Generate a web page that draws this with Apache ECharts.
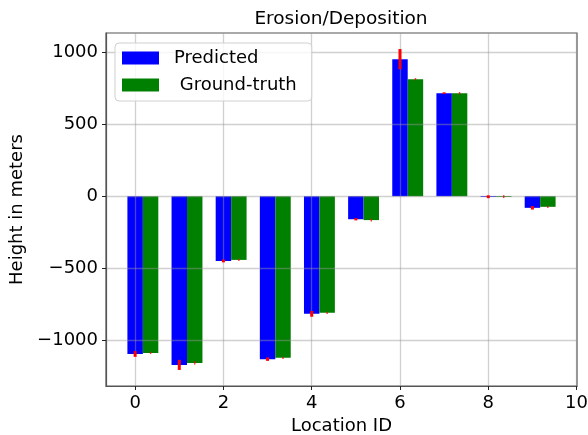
<!DOCTYPE html>
<html>
<head>
<meta charset="utf-8">
<script src="https://cdn.jsdelivr.net/npm/echarts@6/dist/echarts.min.js"></script>
<style>
  html, body { margin: 0; padding: 0; background: #fff; }
  #chart { width: 588px; height: 435px; }
</style>
</head>
<body>
<div id="chart"></div>
<script>
// Per-location heights (m) and their uncertainties
const locations = [0, 1, 2, 3, 4, 5, 6, 7, 8, 9];
const predicted = [-1094, -1170, -449, -1130, -816, -160, 950, 714, -4, -81];
const predictedErr = [20, 35, 10, 12, 20, 8, 70, 6, 10, 12];
const groundTruth = [-1087, -1156, -442, -1121, -809, -166, 811, 714, -3, -74];
const groundTruthErr = [8, 12, 8, 8, 8, 10, 8, 8, 10, 8];
const xTicks = [0, 2, 4, 6, 8, 10];
const yTicks = [-1000, -500, 0, 500, 1000];

const BAR_W = 0.35;           // bar width in x units
const FONT = 'DejaVu Sans';
const FS = 18;

// Axis limits: data extent padded by 5% on each side
function padded(lo, hi) { const m = (hi - lo) * 0.05; return [lo - m, hi + m]; }
const xLim = padded(locations[0] - BAR_W / 2, locations[locations.length - 1] + BAR_W * 1.5);
const yLo = Math.min(...predicted.map((v, i) => v - predictedErr[i]), ...groundTruth.map((v, i) => v - groundTruthErr[i]), 0);
const yHi = Math.max(...predicted.map((v, i) => v + predictedErr[i]), ...groundTruth.map((v, i) => v + groundTruthErr[i]), 0);
const yLim = padded(yLo, yHi);

const minus = s => String(s).replace('-', '\u2212');

function barSeries(name, values, offset, color) {
  return {
    name: name,
    type: 'custom',
    z: 2,
    itemStyle: { color: color },
    data: locations.map((x, i) => [x + offset, values[i]]),
    encode: { x: 0, y: 1 },
    renderItem: function (params, api) {
      const x = api.value(0), y = api.value(1);
      const a = api.coord([x - BAR_W / 2, y]);
      const b = api.coord([x + BAR_W / 2, 0]);
      return {
        type: 'rect',
        shape: {
          x: Math.min(a[0], b[0]), y: Math.min(a[1], b[1]),
          width: Math.abs(b[0] - a[0]), height: Math.max(Math.abs(b[1] - a[1]), 0.8)
        },
        style: { fill: color }
      };
    }
  };
}

function errSeries(id, values, errs, offset, width, color) {
  return {
    id: id,
    type: 'custom',
    z: 5,
    silent: true,
    data: locations.map((x, i) => [x + offset, values[i], errs[i]]),
    encode: { x: 0, y: 1 },
    renderItem: function (params, api) {
      const x = api.value(0), y = api.value(1), e = api.value(2);
      const a = api.coord([x, y - e]);
      const b = api.coord([x, y + e]);
      return {
        type: 'line',
        shape: { x1: a[0], y1: a[1], x2: b[0], y2: b[1] },
        style: { stroke: color, lineWidth: width }
      };
    }
  };
}

const gridLine = { show: true, lineStyle: { color: 'rgba(150,150,150,0.45)', width: 1.3 } };
const tickStyle = { show: true, length: 4, lineStyle: { color: '#222', width: 1 } };

const chart = echarts.init(document.getElementById('chart'), null, { renderer: 'canvas' });
chart.setOption({
  backgroundColor: '#fff',
  animation: false,
  textStyle: { fontFamily: FONT },
  title: {
    text: 'Erosion/Deposition',
    left: 341, top: 10, padding: 0, textAlign: 'center',
    textStyle: { fontFamily: FONT, fontSize: 18.5, fontWeight: 'normal', color: '#000' }
  },
  grid: {
    left: 106, right: 11, top: 33, bottom: 49,
    outerBoundsMode: 'none',
    containLabel: false,
    show: true, borderColor: '#555', borderWidth: 1.2, backgroundColor: 'transparent'
  },
  legend: {
    orient: 'vertical',
    left: 115, top: 43,
    padding: [6, 15, 7, 7],
    itemGap: 9,
    itemWidth: 37, itemHeight: 13,
    backgroundColor: 'rgba(255,255,255,0.8)',
    borderColor: '#d0d0d0', borderWidth: 1, borderRadius: 4,
    textStyle: { fontFamily: FONT, fontSize: FS, color: '#000', lineHeight: 18, padding: [0, 0, 0, 10] },
    data: [{ name: 'Predicted', icon: 'rect' }, { name: ' Ground-truth', icon: 'rect' }]
  },
  xAxis: {
    type: 'value',
    min: xLim[0], max: xLim[1],
    z: 3,
    name: 'Location ID', nameLocation: 'middle', nameGap: 30,
    nameTextStyle: { fontFamily: FONT, fontSize: FS, color: '#000' },
    axisLine: { show: true, onZero: false, lineStyle: { color: '#555', width: 1.2 } },
    axisTick: Object.assign({ customValues: xTicks }, tickStyle),
    axisLabel: { customValues: xTicks, fontFamily: FONT, fontSize: FS, color: '#000', margin: 8 },
    splitLine: gridLine
  },
  yAxis: {
    type: 'value',
    min: yLim[0], max: yLim[1],
    z: 3,
    name: 'Height in meters', nameLocation: 'middle', nameGap: 73,
    nameTextStyle: { fontFamily: FONT, fontSize: FS, color: '#000' },
    axisLine: { show: true, onZero: false, lineStyle: { color: '#555', width: 1.2 } },
    axisTick: Object.assign({ customValues: yTicks }, tickStyle),
    axisLabel: { customValues: yTicks, fontFamily: FONT, fontSize: FS, color: '#000', margin: 8, formatter: v => minus(v) },
    splitLine: gridLine
  },
  series: [
    barSeries('Predicted', predicted, 0, '#0000ff'),
    barSeries(' Ground-truth', groundTruth, BAR_W, '#008000'),
    errSeries('predicted-err', predicted, predictedErr, 0, 3, '#ff0000'),
    errSeries('truth-err', groundTruth, groundTruthErr, BAR_W, 1.5, 'rgba(255,0,0,0.75)')
  ]
});
</script>
</body>
</html>
